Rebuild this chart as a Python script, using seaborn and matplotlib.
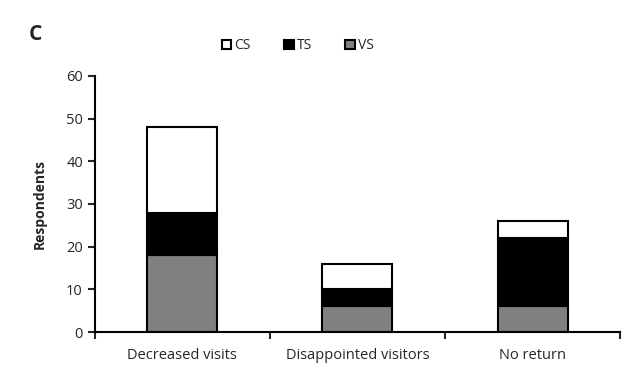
import pandas as pd
import matplotlib.pyplot as plt
import seaborn as sns
from matplotlib.patches import Patch
from matplotlib.ticker import FixedLocator

sns.set_style("white")
plt.rcParams["font.family"] = ["Open Sans", "DejaVu Sans"]
plt.rcParams["font.size"] = 10

categories = ["Decreased visits", "Disappointed visitors", "No return"]
vs = [18, 6, 6]
ts = [10, 4, 16]
cs = [20, 6, 4]

df = pd.DataFrame({"cat": categories, "VS": vs, "TS": ts, "CS": cs})
df["TS_bottom"] = df["VS"]
df["CS_bottom"] = df["VS"] + df["TS"]

fig = plt.figure(figsize=(6.4, 3.76), dpi=100)
ax = fig.add_axes([0.148, 0.117, 0.821, 0.681])

sns.barplot(data=df, x="cat", y="VS", color="#808080", width=0.4,
            edgecolor="black", linewidth=1.5, saturation=1, ax=ax)
sns.barplot(data=df, x="cat", y="TS", bottom=df["TS_bottom"], color="black", width=0.4,
            edgecolor="black", linewidth=1.5, saturation=1, ax=ax)
sns.barplot(data=df, x="cat", y="CS", bottom=df["CS_bottom"], color="white", width=0.4,
            edgecolor="black", linewidth=1.5, saturation=1, ax=ax)

ax.set_xlim(-0.5, 2.5)
ax.set_ylim(0, 60)
ax.set_yticks(range(0, 61, 10))
ax.set_xlabel("")
ax.set_ylabel("Respondents", fontweight="bold", fontsize=10, labelpad=14)
sns.despine(ax=ax)
for s in ["left", "bottom"]:
    ax.spines[s].set_linewidth(1.5)
    ax.spines[s].set_color("black")
ax.tick_params(axis="y", left=True, length=5, width=1.5, labelsize=10.5)
ax.tick_params(axis="x", which="major", bottom=False, labelsize=10.5, pad=8)
ax.xaxis.set_minor_locator(FixedLocator([-0.5, 0.5, 1.5, 2.5]))
ax.tick_params(axis="x", which="minor", bottom=True, length=5, width=1.5)

handles = [Patch(facecolor="white", edgecolor="black", linewidth=1.5, label="CS"),
           Patch(facecolor="black", edgecolor="black", linewidth=1.5, label="TS"),
           Patch(facecolor="#808080", edgecolor="black", linewidth=1.5, label="VS")]
fig.legend(handles=handles, loc="center", bbox_to_anchor=(0.465, 0.878), ncol=3,
           frameon=False, handlelength=0.7, handleheight=0.7, handletextpad=0.2,
           columnspacing=2.4, fontsize=10)

fig.text(0.055, 0.907, "C", fontsize=15, fontweight="bold", ha="center", va="center")

fig.savefig("out.png", dpi=100)
